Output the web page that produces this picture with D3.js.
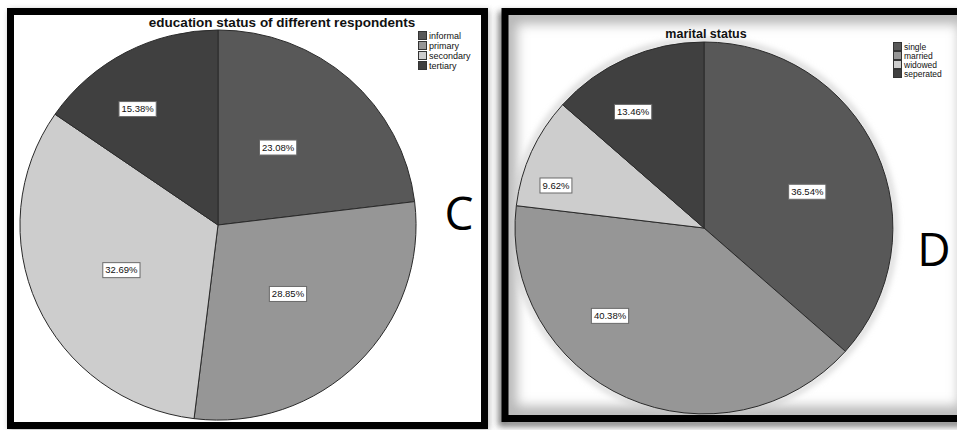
<!DOCTYPE html>
<html>
<head>
<meta charset="utf-8">
<script src="https://cdn.jsdelivr.net/npm/d3@7"></script>
<style>
  body { margin: 0; background: #fff; }
  svg { display: block; }
</style>
</head>
<body>
<svg id="chart" width="957" height="430"></svg>
<script>
// Panel C: education status
const eduTitle = "education status of different respondents";
const eduCategories = ["informal", "primary", "secondary", "tertiary"];
const eduValues = [23.08, 28.85, 32.69, 15.38];

// Panel D: marital status
const maritalTitle = "marital status";
const maritalCategories = ["single", "married", "widowed", "seperated"];
const maritalValues = [36.54, 40.38, 9.62, 13.46];

// Shared slice palette (greyscale, in category order)
const sliceColors = ["#585858", "#969696", "#cdcdcd", "#404040"];

// Label anchor inside each slice: [fraction along the slice angle, fraction of radius]
const eduLabelPlace = [[0.45, 0.50], [0.50, 0.50], [0.49, 0.54], [0.38, 0.72]];
const maritalLabelPlace = [[0.535, 0.58], [0.653, 0.686], [0.27, 0.816], [0.36, 0.728]];

const svg = d3.select("#chart");
const defs = svg.append("defs");

defs.append("filter").attr("id", "blur3")
  .attr("x", "-20%").attr("y", "-20%").attr("width", "140%").attr("height", "140%")
  .append("feGaussianBlur").attr("stdDeviation", 3);
defs.append("filter").attr("id", "blur6")
  .attr("x", "-20%").attr("y", "-20%").attr("width", "140%").attr("height", "140%")
  .append("feGaussianBlur").attr("stdDeviation", 6);
defs.append("clipPath").attr("id", "innerD")
  .append("rect").attr("x", 508).attr("y", 15).attr("width", 460).attr("height", 400);

const FONT = "'Liberation Sans', Arial, sans-serif";

// ---------- frames ----------
// soft shadows behind the frames
svg.append("rect")
  .attr("x", 12).attr("y", 13).attr("width", 474).attr("height", 414)
  .attr("fill", "none").attr("stroke", "#777").attr("stroke-width", 6)
  .attr("filter", "url(#blur3)").attr("opacity", 0.6);
svg.append("rect")
  .attr("x", 502).attr("y", 15).attr("width", 470).attr("height", 408)
  .attr("fill", "none").attr("stroke", "#555").attr("stroke-width", 7)
  .attr("filter", "url(#blur3)").attr("opacity", 0.8);

// panel backgrounds
svg.append("rect").attr("x", 14).attr("y", 15).attr("width", 467).attr("height", 408).attr("fill", "#fff");
svg.append("rect").attr("x", 508).attr("y", 15).attr("width", 460).attr("height", 400).attr("fill", "#fff");

// inner vignette of panel D
svg.append("g").attr("clip-path", "url(#innerD)")
  .append("rect")
  .attr("x", 508).attr("y", 15).attr("width", 460).attr("height", 400)
  .attr("fill", "none").attr("stroke", "#b8b8b8").attr("stroke-width", 18)
  .attr("filter", "url(#blur6)");

function drawPie(opts) {
  const { cx, cy, rx, ry, values, categories, labelPlace, halo } = opts;
  const pie = d3.pie().sort(null).value(d => d).startAngle(0).endAngle(2 * Math.PI);
  const arcs = pie(values);
  const arc = d3.arc().innerRadius(0).outerRadius(1);

  if (halo) {
    svg.append("ellipse")
      .attr("cx", cx).attr("cy", cy).attr("rx", rx + 2).attr("ry", ry + 2)
      .attr("fill", "none").attr("stroke", "#c8c8c8").attr("stroke-width", 4)
      .attr("filter", "url(#blur3)");
  }

  const g = svg.append("g")
    .attr("transform", `translate(${cx},${cy}) scale(${rx},${ry})`);
  g.selectAll("path")
    .data(arcs)
    .join("path")
    .attr("d", arc)
    .attr("fill", (d, i) => sliceColors[i])
    .attr("stroke", "#2a2a2a")
    .attr("stroke-width", 1)
    .attr("vector-effect", "non-scaling-stroke");

  const labels = svg.append("g");
  arcs.forEach((d, i) => {
    const [f, rf] = labelPlace[i];
    const a = d.startAngle + f * (d.endAngle - d.startAngle);
    const x = cx + rx * rf * Math.sin(a);
    const y = cy - ry * rf * Math.cos(a);
    const txt = d3.format(".2f")(values[i]) + "%";
    const lg = labels.append("g").attr("transform", `translate(${x},${y})`);
    const t = lg.append("text")
      .attr("text-anchor", "middle").attr("dy", "0.35em")
      .attr("font-family", FONT).attr("font-size", 9.5).attr("fill", "#111")
      .text(txt);
    const w = t.node().getComputedTextLength() + 5;
    lg.insert("rect", "text")
      .attr("x", -w / 2).attr("y", -7.5).attr("width", w).attr("height", 15)
      .attr("fill", "#fff").attr("stroke", "#6a6a6a").attr("stroke-width", 1);
  });
}

function drawLegend(x, y, step, categories, fontSize) {
  const lg = svg.append("g").attr("transform", `translate(${x},${y})`);
  const rows = lg.selectAll("g").data(categories).join("g")
    .attr("transform", (d, i) => `translate(0,${i * step})`);
  rows.append("rect")
    .attr("x", 0.5).attr("y", -7.5).attr("width", 8).attr("height", 8)
    .attr("fill", (d, i) => sliceColors[i]).attr("stroke", "#333").attr("stroke-width", 1);
  rows.append("text")
    .attr("x", 11).attr("y", 0)
    .attr("font-family", FONT).attr("font-size", fontSize).attr("fill", "#111")
    .text(d => d);
}

// ---------- panel C ----------
drawPie({
  cx: 218, cy: 225, rx: 198, ry: 195,
  values: eduValues, categories: eduCategories, labelPlace: eduLabelPlace, halo: false
});
svg.append("text")
  .attr("x", 282).attr("y", 27).attr("text-anchor", "middle")
  .attr("font-family", FONT).attr("font-weight", "bold").attr("font-size", 13.5)
  .attr("fill", "#111").text(eduTitle);
drawLegend(418, 39, 10, eduCategories, 9);

// ---------- panel D ----------
drawPie({
  cx: 704, cy: 228, rx: 189, ry: 186,
  values: maritalValues, categories: maritalCategories, labelPlace: maritalLabelPlace, halo: true
});
svg.append("text")
  .attr("x", 706).attr("y", 38).attr("text-anchor", "middle")
  .attr("font-family", FONT).attr("font-weight", "bold").attr("font-size", 12.5)
  .attr("fill", "#111").text(maritalTitle);
drawLegend(893, 50, 9, maritalCategories, 8.5);

// ---------- frame borders ----------
svg.append("rect")
  .attr("x", 10.5).attr("y", 11.5).attr("width", 474).attr("height", 414)
  .attr("fill", "none").attr("stroke", "#000").attr("stroke-width", 7);
svg.append("rect")
  .attr("x", 505).attr("y", 11.5).attr("width", 470).attr("height", 407)
  .attr("fill", "none").attr("stroke", "#000").attr("stroke-width", 7);

// ---------- panel letters ----------
svg.append("text")
  .attr("x", 459).attr("y", 230).attr("text-anchor", "middle")
  .attr("font-family", "'Open Sans', 'Noto Sans', sans-serif").attr("font-size", 46)
  .attr("fill", "#000").text("C");
svg.append("text")
  .attr("x", 934).attr("y", 266).attr("text-anchor", "middle")
  .attr("font-family", "'Open Sans', 'Noto Sans', sans-serif").attr("font-size", 46)
  .attr("fill", "#000").text("D");
</script>
</body>
</html>
